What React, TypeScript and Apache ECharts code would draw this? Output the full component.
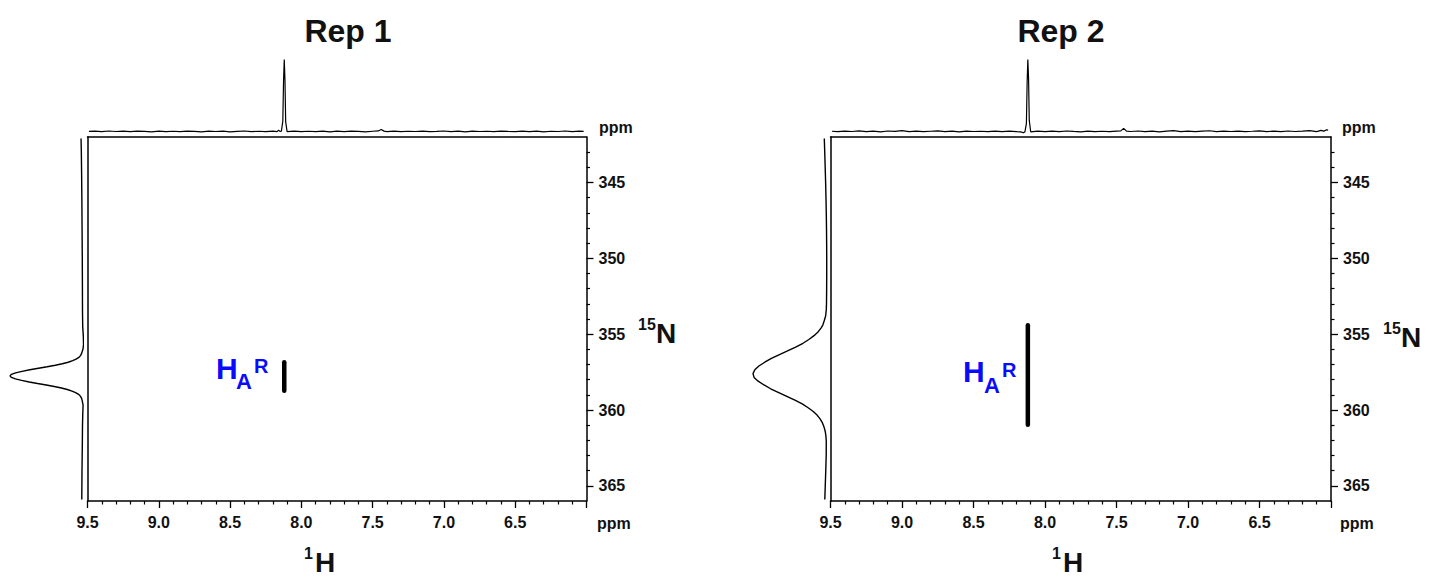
import React, { useEffect, useRef } from 'react';
import * as echarts from 'echarts';

// ---------- data ----------
const H_MIN = 6.0;
const H_MAX = 9.5;
const N_MIN = 342;
const N_MAX = 366;
const N_MAJOR = [345, 350, 355, 360, 365];
const N_MINOR = [343, 344, 346, 347, 348, 349, 351, 352, 353, 354, 356, 357, 358, 359, 361, 362, 363, 364];

// cross peaks [1H ppm, 15N start, 15N end]
const crossRep1: [number, number, number] = [8.12, 356.85, 358.73];
const crossRep2: [number, number, number] = [8.12, 354.41, 360.97];

// 1H projections: [ppm, intensity (peak = 100)]
const topRep1: [number, number][] = [
  [9.49, 0.8], [9.45, 1.2], [9.40, 0.5], [9.35, 1.4], [9.30, 0.7], [9.25, 1.1], [9.20, 0.4], [9.15, 1.3],
  [9.10, 0.9], [9.05, 0.3], [9.00, 1.2], [8.95, 0.6], [8.90, 1.0], [8.85, 0.4], [8.80, 1.3], [8.75, 0.8],
  [8.70, 0.2], [8.65, 1.1], [8.60, 0.7], [8.55, 1.2], [8.50, 0.3], [8.45, 0.9], [8.40, 1.4], [8.35, 0.5],
  [8.30, 1.0], [8.25, 0.4], [8.20, 1.1], [8.17, 0.6], [8.16, 2.5], [8.15, 0.8], [8.14, 1.0], [8.13, 15],
  [8.125, 70], [8.12, 100], [8.115, 72], [8.11, 14], [8.10, 0.5], [8.05, 1.2], [8.00, 0.4], [7.95, 1.0],
  [7.90, 0.6], [7.85, 1.3], [7.80, 0.3], [7.75, 1.1], [7.70, 0.5], [7.65, 1.2], [7.60, 0.8], [7.55, 0.2],
  [7.50, 1.0], [7.46, 1.5], [7.44, 3.5], [7.42, 1.2], [7.40, 0.6], [7.35, 1.2], [7.30, 0.4], [7.25, 1.0],
  [7.20, 0.7], [7.15, 1.3], [7.10, 0.5], [7.05, 0.9], [7.00, 1.4], [6.95, 0.6], [6.90, 1.1], [6.85, 0.3],
  [6.80, 1.2], [6.75, 0.7], [6.70, 1.0], [6.65, 0.4], [6.60, 1.3], [6.55, 0.8], [6.50, 0.5], [6.45, 1.2],
  [6.40, 0.6], [6.35, 1.1], [6.30, 0.3], [6.25, 1.0], [6.20, 0.7], [6.15, 1.4], [6.10, 0.5], [6.05, 1.1],
  [6.02, 0.8],
];
const topRep2: [number, number][] = [
  [9.49, 1.0], [9.45, 0.4], [9.40, 1.3], [9.35, 0.7], [9.30, 1.5], [9.25, 0.5], [9.20, 1.1], [9.15, 0.3],
  [9.10, 1.4], [9.05, 0.8], [9.00, 2.0], [8.95, 0.6], [8.90, 1.2], [8.85, 0.4], [8.80, 1.0], [8.75, 1.6],
  [8.70, 0.5], [8.65, 1.1], [8.60, 0.3], [8.55, 1.3], [8.50, 0.7], [8.45, 1.0], [8.40, 0.4], [8.35, 1.2],
  [8.30, 0.6], [8.25, 1.1], [8.20, 0.5], [8.17, 0.2], [8.15, -1.0], [8.14, 0.4], [8.13, 12], [8.125, 68],
  [8.12, 100], [8.115, 74], [8.11, 16], [8.10, 0.3], [8.05, 1.3], [8.00, 0.5], [7.95, 1.1], [7.90, 0.4],
  [7.85, 1.4], [7.80, 0.8], [7.75, 0.3], [7.70, 1.2], [7.65, 0.6], [7.60, 1.0], [7.55, 0.4], [7.50, 1.3],
  [7.47, 1.5], [7.45, 5.0], [7.43, 1.2], [7.40, 0.7], [7.35, 1.4], [7.30, 0.5], [7.25, 1.1], [7.20, 0.3],
  [7.15, 1.2], [7.10, 1.8], [7.05, 0.6], [7.00, 1.3], [6.95, 0.5], [6.90, 1.1], [6.85, 1.7], [6.80, 0.4],
  [6.75, 1.2], [6.70, 0.7], [6.65, 1.3], [6.60, 0.5], [6.55, 1.0], [6.50, 1.6], [6.45, 0.6], [6.40, 1.2],
  [6.35, 0.4], [6.30, 1.4], [6.25, 0.7], [6.20, 1.1], [6.15, 1.8], [6.10, 0.6], [6.07, 2.2], [6.05, 1.2],
  [6.03, 3.0], [6.02, 2.5],
];

// 15N projections: [ppm, intensity (peak = 100)]
const sideRep1: [number, number][] = [
  [342.1, 2.0], [343, 1.6], [344.5, 1.2], [346, 0.9], [348, 0.6], [350, 0.3], [352, 0.1], [353.5, 0],
  [354.5, -0.3], [355.2, -1.2], [355.7, -1.4], [356.0, -0.6], [356.25, 1.1], [356.35, 2.0], [356.45, 3.4],
  [356.55, 5.6], [356.65, 8.9], [356.75, 13.5], [356.85, 19.8], [356.95, 27.8], [357.05, 37.5], [357.15, 48.7],
  [357.25, 60.7], [357.35, 72.6], [357.45, 83.5], [357.55, 92.3], [357.65, 98], [357.75, 100], [357.85, 98],
  [357.95, 92.5], [358.05, 84], [358.15, 73.5], [358.25, 62], [358.35, 50], [358.45, 39], [358.55, 29],
  [358.65, 21], [358.75, 14.5], [358.85, 9.5], [358.95, 6], [359.05, 3.6], [359.15, 2.1], [359.25, 1.1],
  [359.4, 0.3], [359.7, -0.8], [360.2, -0.4], [361, 0], [362.5, 0.3], [364, 0.7], [365.9, 1.0],
];
const sideRep2: [number, number][] = [
  [342.1, 3.0], [343, 2.4], [344, 1.8], [345, 1.2], [346, 0.7], [347, 0.3], [348, 0], [349, -0.2],
  [350, -0.3], [351, -0.3], [352, -0.2], [353, 0], [353.4, 0.3], [353.8, 1.2], [354.1, 3.0], [354.4, 5.0],
  [354.6, 7.5], [354.85, 11.5], [355.1, 17], [355.35, 24], [355.6, 32], [355.85, 42], [356.1, 53],
  [356.35, 64], [356.6, 75], [356.85, 84], [357.1, 92], [357.35, 97.5], [357.6, 100], [357.85, 98.5],
  [358.1, 93], [358.35, 85], [358.6, 76], [358.85, 65], [359.1, 54], [359.35, 43], [359.6, 33],
  [359.85, 25], [360.1, 18], [360.35, 12.5], [360.6, 8.5], [360.85, 5.5], [361.1, 3.5], [361.4, 1.8],
  [361.7, 0.8], [362.1, 0.3], [363, 0.4], [364, 1.0], [365, 1.7], [365.9, 2.3],
];

const titles = ['Rep 1', 'Rep 2'];
const axisUnit = 'ppm';

// ---------- styling / layout ----------
const FONT = '"Liberation Sans", Arial, Helvetica, sans-serif';
const BLUE = '#0a0aff';
const INK = '#111';

type Box = { left: number; top: number; width: number; height: number };
type Geo = { main: Box; top: Box; side: Box };

const GEOS: Geo[] = [
  {
    main: { left: 87.5, top: 137, width: 499, height: 364 },
    top: { left: 87.5, top: 59.5, width: 499, height: 72.5 },
    side: { left: 10, top: 137, width: 72.5, height: 364 },
  },
  {
    main: { left: 830.5, top: 137, width: 500.5, height: 364 },
    top: { left: 830.5, top: 59.5, width: 500.5, height: 72.5 },
    side: { left: 753, top: 137, width: 73.5, height: 364 },
  },
];

function buildOption() {
  const grid: any[] = [];
  const xAxis: any[] = [];
  const yAxis: any[] = [];
  const series: any[] = [];
  const crosses = [crossRep1, crossRep2];
  const tops = [topRep1, topRep2];
  const sides = [sideRep1, sideRep2];

  const axisLine = { show: true, lineStyle: { color: '#000', width: 1.5 } };
  const labelStyle = { fontFamily: FONT, fontSize: 16, fontWeight: 'bold', color: INK };

  GEOS.forEach((g, p) => {
    const gMain = grid.length;
    grid.push({ ...g.main, containLabel: false });
    const gTop = grid.length;
    grid.push({ ...g.top, containLabel: false });
    const gSide = grid.length;
    grid.push({ ...g.side, containLabel: false });

    const xMain = xAxis.length;
    xAxis.push({
      type: 'value', gridIndex: gMain, min: H_MIN, max: H_MAX, interval: 0.5, inverse: true, position: 'bottom',
      axisLine, axisTick: { show: true, length: 7, lineStyle: { color: '#000', width: 1.3 } },
      minorTick: { show: true, splitNumber: 5, length: 3.5, lineStyle: { color: '#000', width: 1.2 } },
      axisLabel: { ...labelStyle, margin: 13, showMinLabel: false, formatter: (v: number) => v.toFixed(1) },
      splitLine: { show: false }, minorSplitLine: { show: false },
    });
    xAxis.push({
      type: 'value', gridIndex: gMain, min: H_MIN, max: H_MAX, inverse: true, position: 'top',
      axisLine, axisTick: { show: false }, axisLabel: { show: false }, splitLine: { show: false },
    });
    const xTop = xAxis.length;
    xAxis.push({ type: 'value', gridIndex: gTop, min: H_MIN, max: H_MAX, inverse: true, show: false, splitLine: { show: false } });
    const xSide = xAxis.length;
    xAxis.push({ type: 'value', gridIndex: gSide, min: 0, max: 100, inverse: true, show: false, splitLine: { show: false } });

    const yMain = yAxis.length;
    yAxis.push({
      type: 'value', gridIndex: gMain, min: N_MIN, max: N_MAX, inverse: true, position: 'right',
      axisLine, axisTick: { show: true, length: 7, customValues: N_MAJOR, lineStyle: { color: '#000', width: 1.3 } },
      axisLabel: { ...labelStyle, margin: 12, customValues: N_MAJOR },
      splitLine: { show: false },
    });
    yAxis.push({
      type: 'value', gridIndex: gMain, min: N_MIN, max: N_MAX, inverse: true, position: 'right',
      axisLine: { show: false }, axisTick: { show: true, length: 3.5, customValues: N_MINOR, lineStyle: { color: '#000', width: 1.2 } },
      axisLabel: { show: false }, splitLine: { show: false },
    });
    yAxis.push({
      type: 'value', gridIndex: gMain, min: N_MIN, max: N_MAX, inverse: true, position: 'left',
      axisLine, axisTick: { show: false }, axisLabel: { show: false }, splitLine: { show: false },
    });
    const yTop = yAxis.length;
    yAxis.push({ type: 'value', gridIndex: gTop, min: 0, max: 100, show: false, splitLine: { show: false } });
    const ySide = yAxis.length;
    yAxis.push({ type: 'value', gridIndex: gSide, min: N_MIN, max: N_MAX, inverse: true, show: false, splitLine: { show: false } });

    const c = crosses[p];
    series.push({
      type: 'line', xAxisIndex: xMain, yAxisIndex: yMain, data: [[c[0], c[1]], [c[0], c[2]]],
      symbol: 'none', lineStyle: { color: '#000', width: 4.5, cap: 'round' }, silent: true,
    });
    series.push({
      type: 'line', xAxisIndex: xTop, yAxisIndex: yTop, data: tops[p],
      symbol: 'none', clip: false, lineStyle: { color: '#000', width: 1.2 }, silent: true,
    });
    series.push({
      type: 'line', xAxisIndex: xSide, yAxisIndex: ySide, data: sides[p].map(([ppm, v]) => [v, ppm]),
      symbol: 'none', clip: false, lineStyle: { color: '#000', width: 1.4 }, silent: true,
    });
  });

  const txt = (x: number, y: number, text: string, size: number, opts: any = {}) => ({
    type: 'text', x, y, silent: true,
    style: {
      text, fontFamily: FONT, fontSize: size, fontWeight: 'bold', fill: opts.fill || INK,
      textAlign: opts.align || 'left', align: opts.align || 'left',
      textVerticalAlign: 'middle', verticalAlign: 'middle',
    },
  });

  const graphic: any[] = [
    txt(348, 31, titles[0], 32, { align: 'center' }),
    txt(1061, 31, titles[1], 32, { align: 'center' }),
    // ppm units
    txt(599, 127, axisUnit, 16), txt(597, 523, axisUnit, 16),
    txt(1342, 127, axisUnit, 16), txt(1340, 523, axisUnit, 16),
    // 1H axis titles
    txt(304, 553, '1', 16), txt(315, 562, 'H', 28),
    txt(1052, 553, '1', 16), txt(1063, 562, 'H', 28),
    // 15N axis titles
    txt(638, 324, '15', 16), txt(656, 333, 'N', 28),
    txt(1383, 328, '15', 16), txt(1401, 337, 'N', 28),
    // peak labels
    txt(216, 368, 'H', 30, { fill: BLUE }), txt(236, 381, 'A', 22, { fill: BLUE }), txt(254, 366, 'R', 20, { fill: BLUE }),
    txt(963, 371, 'H', 30, { fill: BLUE }), txt(984, 385, 'A', 22, { fill: BLUE }), txt(1002, 370, 'R', 20, { fill: BLUE }),
  ];

  return { animation: false, backgroundColor: '#fff', grid, xAxis, yAxis, series, graphic };
}

export default function App() {
  const ref = useRef<HTMLDivElement>(null);
  useEffect(() => {
    if (!ref.current) return;
    const chart = echarts.init(ref.current, null, { renderer: 'svg' });
    chart.setOption(buildOption() as any);
    return () => chart.dispose();
  }, []);
  return (
    <div
      ref={ref}
      style={{ position: 'absolute', left: 0, top: 0, width: 1430, height: 580, background: '#fff' }}
    />
  );
}
